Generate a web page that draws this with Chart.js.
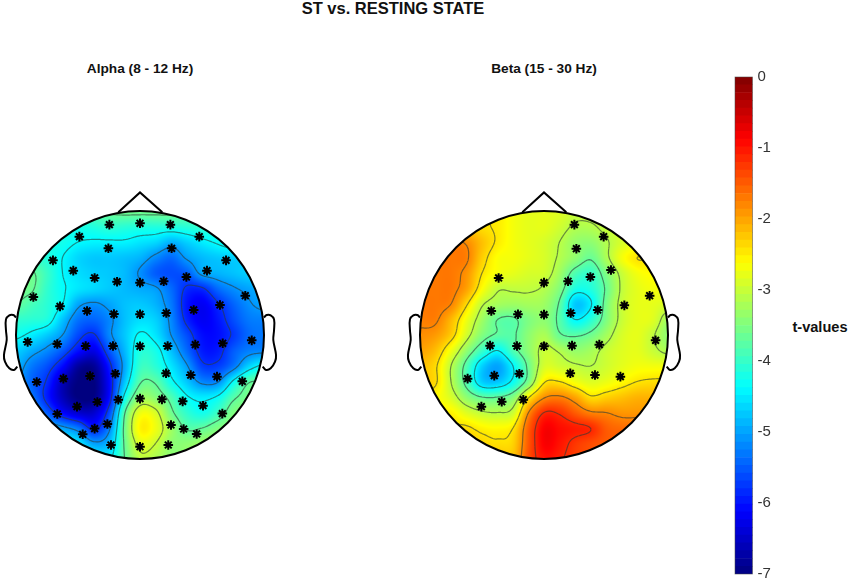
<!DOCTYPE html>
<html>
<head>
<meta charset="utf-8">
<title>ST vs. RESTING STATE</title>
<script src="https://cdn.jsdelivr.net/npm/chart.js@4"></script>
<style>
  html, body { margin: 0; padding: 0; background: #fff; }
  body { position: relative; width: 850px; height: 583px; overflow: hidden; font-family: "Liberation Sans", Arial, sans-serif; }
  canvas { position: absolute; }
  .label { position: absolute; font-weight: bold; color: #111; white-space: nowrap; transform: translateX(-50%); }
</style>
</head>
<body>
<div class="label" style="left:393px;top:-1px;font-size:16.5px">ST vs. RESTING STATE</div>
<div class="label" style="left:140px;top:61px;font-size:13.7px">Alpha (8 - 12 Hz)</div>
<div class="label" style="left:544px;top:61px;font-size:13.7px">Beta (15 - 30 Hz)</div>
<div class="label" style="left:820px;top:319px;font-size:14.6px">t-values</div>
<canvas id="alphaHead" width="280" height="285" style="left:0px;top:186px"></canvas>
<canvas id="betaHead" width="280" height="285" style="left:404px;top:186px"></canvas>
<canvas id="colorbar" width="70" height="523" style="left:720px;top:60px"></canvas>
<script>
// t-values, rows top to bottom, columns left to right
// grid runs -100..100 head units in both directions, every 12.5
const alphaGrid = [
  [-3.8,-3.8,-3.8,-3.8,-3.8,-3.75,-3.65,-3.6,-3.6,-3.6,-3.6,-3.7,-3.8,-3.9,-3.9,-3.9,-3.9],
  [-4.1,-4.1,-4.1,-4.15,-4.2,-4.15,-4.05,-4.1,-4.15,-4.15,-4.15,-4.1,-4.05,-4.1,-4.1,-4.1,-4.1],
  [-4.15,-4.15,-4.2,-4.25,-4.4,-4.45,-4.45,-4.45,-4.55,-4.65,-4.9,-4.7,-4.5,-4.35,-4.2,-4.2,-4.2],
  [-3.9,-4.0,-4.15,-4.4,-4.65,-4.75,-4.75,-4.8,-4.9,-5.2,-5.4,-5.05,-4.85,-4.75,-4.7,-4.7,-4.7],
  [-3.65,-3.65,-4.0,-4.4,-4.6,-4.7,-4.75,-4.85,-5.15,-5.5,-5.6,-5.5,-5.0,-4.9,-4.8,-4.7,-4.7],
  [-3.6,-3.65,-4.05,-4.35,-4.55,-4.65,-4.75,-4.85,-4.95,-5.05,-5.4,-5.85,-5.85,-5.4,-5.15,-5.0,-4.9],
  [-3.7,-3.9,-4.1,-4.4,-5.0,-5.15,-5.0,-4.8,-4.75,-4.9,-5.3,-6.0,-6.2,-5.85,-5.45,-5.15,-5.0],
  [-4.05,-4.1,-4.2,-4.8,-5.35,-5.45,-5.2,-4.8,-4.6,-4.7,-5.2,-5.9,-6.2,-6.0,-5.6,-5.3,-5.25],
  [-4.3,-4.5,-4.75,-5.1,-5.65,-5.85,-5.2,-4.75,-4.35,-4.55,-5.1,-5.6,-6.05,-6.05,-5.75,-5.4,-5.3],
  [-4.7,-4.95,-5.2,-5.55,-6.05,-6.3,-5.55,-4.85,-4.15,-4.25,-4.8,-5.4,-5.95,-5.95,-5.5,-5.25,-5.2],
  [-4.9,-5.3,-5.6,-6.1,-6.8,-6.85,-5.95,-4.95,-4.0,-4.1,-4.55,-5.05,-5.7,-5.7,-5.3,-4.65,-4.3],
  [-5.0,-5.45,-5.85,-6.6,-7.0,-7.0,-6.1,-4.75,-3.75,-3.75,-4.3,-4.75,-5.2,-5.15,-4.35,-3.75,-3.7],
  [-5.0,-5.3,-5.95,-6.6,-7.0,-6.95,-6.05,-4.3,-3.35,-3.45,-3.85,-4.35,-4.5,-4.35,-3.8,-3.55,-3.55],
  [-5.0,-5.0,-5.5,-6.1,-6.45,-6.45,-5.6,-3.75,-2.75,-2.9,-3.6,-4.05,-4.25,-3.95,-3.5,-3.5,-3.5],
  [-4.8,-4.8,-4.8,-5.0,-5.3,-5.9,-5.2,-3.6,-2.55,-2.75,-3.3,-3.75,-3.7,-3.5,-3.4,-3.4,-3.4],
  [-4.4,-4.4,-4.4,-4.4,-4.5,-5.0,-4.8,-3.65,-2.85,-3.0,-3.4,-3.4,-3.3,-3.3,-3.3,-3.3,-3.3],
  [-4.3,-4.3,-4.3,-4.3,-4.3,-4.4,-4.5,-3.7,-3.1,-3.2,-3.4,-3.4,-3.3,-3.3,-3.3,-3.3,-3.3]
];
const betaGrid = [
  [-2.4,-2.4,-2.4,-2.4,-2.4,-2.5,-2.7,-2.8,-2.8,-2.85,-3.0,-3.0,-2.95,-2.9,-2.9,-2.9,-2.9],
  [-2.3,-2.3,-2.3,-2.3,-2.4,-2.5,-2.7,-2.8,-2.8,-2.95,-3.15,-3.15,-3.0,-2.9,-2.9,-2.9,-2.9],
  [-1.9,-1.9,-1.75,-1.85,-2.2,-2.5,-2.7,-2.8,-2.9,-3.1,-3.35,-3.4,-3.15,-2.9,-2.8,-2.8,-2.8],
  [-1.7,-1.7,-1.7,-1.75,-2.3,-2.65,-2.7,-2.8,-2.9,-3.15,-3.4,-3.65,-3.2,-2.7,-2.45,-2.5,-2.5],
  [-1.7,-1.7,-1.7,-1.9,-2.45,-2.7,-2.8,-2.9,-2.95,-3.3,-3.85,-4.0,-3.5,-3.0,-2.7,-2.6,-2.6],
  [-1.7,-1.7,-1.7,-2.0,-2.65,-3.05,-3.05,-3.05,-3.15,-3.5,-4.2,-4.15,-3.65,-3.05,-2.8,-2.7,-2.7],
  [-1.7,-1.7,-1.8,-2.4,-3.05,-3.25,-3.3,-3.25,-3.3,-3.75,-4.75,-4.45,-3.55,-3.0,-2.8,-2.8,-2.9],
  [-1.75,-1.75,-2.15,-2.75,-3.3,-3.7,-3.75,-3.5,-3.4,-3.8,-4.4,-4.1,-3.5,-3.0,-2.8,-2.85,-3.3],
  [-1.85,-1.95,-2.3,-2.95,-3.5,-3.75,-3.75,-3.4,-3.2,-3.65,-3.75,-3.6,-3.25,-2.9,-2.8,-3.05,-3.4],
  [-2.0,-2.2,-2.75,-3.4,-4.0,-4.4,-3.85,-3.4,-3.0,-3.15,-3.35,-3.25,-3.0,-2.85,-2.8,-3.0,-3.2],
  [-2.2,-2.4,-3.1,-3.85,-4.7,-5.0,-4.4,-3.6,-2.9,-2.95,-3.05,-3.1,-2.95,-2.8,-2.7,-2.7,-2.7],
  [-2.3,-2.4,-3.1,-3.85,-4.7,-4.75,-4.3,-3.5,-2.5,-2.45,-2.7,-2.85,-2.75,-2.6,-2.45,-2.4,-2.4],
  [-2.5,-2.6,-2.9,-3.4,-3.7,-3.7,-3.45,-2.5,-1.85,-1.75,-2.0,-2.4,-2.3,-2.2,-2.1,-2.1,-2.1],
  [-2.5,-2.5,-2.55,-2.85,-3.05,-3.1,-2.95,-1.8,-1.15,-1.2,-1.5,-1.75,-1.8,-1.9,-1.9,-1.9,-1.9],
  [-2.4,-2.4,-2.4,-2.4,-2.55,-2.6,-2.45,-1.5,-0.85,-0.95,-1.05,-1.15,-1.5,-1.6,-1.6,-1.6,-1.6],
  [-2.3,-2.3,-2.3,-2.3,-2.35,-2.4,-2.3,-1.45,-0.85,-1.0,-1.25,-1.4,-1.5,-1.5,-1.5,-1.5,-1.5],
  [-2.3,-2.3,-2.3,-2.3,-2.3,-2.2,-2.2,-1.4,-1.0,-1.1,-1.3,-1.4,-1.5,-1.5,-1.5,-1.5,-1.5]
];
const alphaLevels = [-5.8, -5.1, -4.4, -3.7, -3.0];
const betaLevels = [-4.4, -3.7, -3.1, -2.45, -1.8, -1.15];

const alphaSensorX = [-24.7,0,24.5,-48.9,47.8,-25.5,25.5,-70.2,69.4,-53.8,54,-36.6,-18.5,0,19.1,37.4,-86,84.9,-64.5,64.5,-42.7,-21,0,21.2,43.3,-90.6,-66.7,-43.8,-21.8,0,22.3,44.6,66.7,90.1,-83.3,-61.8,-40.3,-19.9,21,40.9,62.1,82.5,-66.7,-50.8,-34.4,-17.5,0,17.7,34.4,50.8,66.4,-46.2,-26.3,-36.6,25,35.2,45.7,-23.4,0,22.8];
const alphaSensorY = [89,90.1,89,79.3,79.3,69.9,69.9,60.2,60.2,51.9,51.9,46,43,42.2,43.3,46.8,30.6,31.7,23.1,24.2,19.4,16.9,16.7,17.7,20.2,-5.6,-7.3,-8.9,-8.9,-9.1,-8.9,-7.8,-6.7,-4.3,-37.9,-35.2,-33.1,-31.2,-30.9,-32.3,-33.6,-37.4,-63.7,-57.8,-54,-52.2,-51.3,-51.9,-53.5,-57,-63.4,-80.1,-71.8,-75.5,-72.6,-75.8,-79.8,-88.7,-90.1,-88.7];
const betaSensorX = [24.5,48.1,26.1,54,-36.6,0,19.4,37.4,85.2,64.8,-42.5,-21,0,21.5,43.3,-43.5,-21.8,0,22.6,44.6,90,-61.6,-40.1,-19.9,21.2,41.1,61.6,-50.5,-34.1,-16.7];
const betaSensorY = [89,79.3,69.6,52.4,46,42.2,43.3,46.8,31.7,23.9,19.4,16.7,16.4,17.7,20.2,-8.6,-8.9,-9.1,-8.6,-7.8,-4.3,-35.2,-32.8,-31.2,-30.9,-32.3,-33.6,-57.8,-53.8,-52.2];

const noseX = [-17.5, 0, 18];
const noseY = [99, 115, 99];
const earX = [100, 102.2, 105.4, 108.1, 108.1, 107.5, 109.7, 108.9, 105.4, 101.6, 98.9];
const earY = [14.2, 16.1, 15.9, 12.6, 4, -4, -16.1, -21.5, -26.9, -28.2, -25.5];

const tMin = -7;
const tMax = 0;
const colorLevels = 64;
const gridStep = 12.5;

function jet(t) {
  const v = Math.min(1, Math.max(0, (t - tMin) / (tMax - tMin)));
  const ch = (c) => Math.round(255 * Math.min(1, Math.max(0, 1.5 - Math.abs(4 * v - c))));
  return [ch(3), ch(2), ch(1)];
}

function cubic(a, b, c, d, f) {
  return b + 0.5 * f * (c - a + f * (2 * a - 5 * b + 4 * c - d + f * (3 * (b - c) + d - a)));
}

// smooth read of the t-value grid at a head position
function sampleGrid(grid, x, y) {
  const n = grid.length - 1;
  const gx = Math.min(n, Math.max(0, (x + 100) / gridStep));
  const gy = Math.min(n, Math.max(0, (100 - y) / gridStep));
  const ix = Math.min(n - 1, Math.floor(gx));
  const iy = Math.min(n - 1, Math.floor(gy));
  const row = (r) => {
    const g = grid[Math.min(n, Math.max(0, r))];
    return cubic(g[Math.max(0, ix - 1)], g[ix], g[ix + 1], g[Math.min(n, ix + 2)], gx - ix);
  };
  return cubic(row(iy - 1), row(iy), row(iy + 1), row(iy + 2), gy - iy);
}

const topoPlugin = {
  id: "topo",
  beforeDatasetsDraw(chart, args, opts) {
    const { ctx } = chart;
    const xs = chart.scales.x;
    const ys = chart.scales.y;
    const grid = chart.data.datasets.find((d) => d.label === "t-values").grid;
    const cx = xs.getPixelForValue(0);
    const cy = ys.getPixelForValue(0);
    const r = xs.getPixelForValue(100) - cx;

    // heat map
    const off = document.createElement("canvas");
    off.width = chart.width;
    off.height = chart.height;
    const octx = off.getContext("2d");
    const img = octx.createImageData(off.width, off.height);
    for (let py = 0; py < off.height; py++) {
      for (let px = 0; px < off.width; px++) {
        if ((px - cx) ** 2 + (py - cy) ** 2 > (r + 1) ** 2) continue;
        const t = sampleGrid(grid, xs.getValueForPixel(px), ys.getValueForPixel(py));
        const [cr, cg, cb] = jet(t);
        const i = (py * off.width + px) * 4;
        img.data[i] = cr;
        img.data[i + 1] = cg;
        img.data[i + 2] = cb;
        img.data[i + 3] = 255;
      }
    }
    octx.putImageData(img, 0, 0);

    ctx.save();
    ctx.beginPath();
    ctx.arc(cx, cy, r, 0, Math.PI * 2);
    ctx.clip();
    ctx.filter = "blur(0.6px)";
    ctx.drawImage(off, 0, 0);
    ctx.filter = "none";

    // contour lines by marching squares
    const step = 1.25;
    const n = Math.round(200 / step);
    const field = [];
    for (let j = 0; j <= n; j++) {
      field[j] = [];
      for (let i = 0; i <= n; i++) field[j][i] = sampleGrid(grid, -100 + i * step, 100 - j * step);
    }
    const toPx = (i, j) => [xs.getPixelForValue(-100 + i * step), ys.getPixelForValue(100 - j * step)];
    ctx.strokeStyle = "rgba(45,60,55,0.6)";
    ctx.lineWidth = 1.2;
    ctx.beginPath();
    opts.levels.forEach((lv) => {
      for (let j = 0; j < n; j++) {
        for (let i = 0; i < n; i++) {
          const a = field[j][i], b = field[j][i + 1], c = field[j + 1][i + 1], d = field[j + 1][i];
          const pts = [];
          if ((a < lv) !== (b < lv)) pts.push(toPx(i + (lv - a) / (b - a), j));
          if ((b < lv) !== (c < lv)) pts.push(toPx(i + 1, j + (lv - b) / (c - b)));
          if ((d < lv) !== (c < lv)) pts.push(toPx(i + (lv - d) / (c - d), j + 1));
          if ((a < lv) !== (d < lv)) pts.push(toPx(i, j + (lv - a) / (d - a)));
          for (let k = 0; k + 1 < pts.length; k += 2) {
            ctx.moveTo(pts[k][0], pts[k][1]);
            ctx.lineTo(pts[k + 1][0], pts[k + 1][1]);
          }
        }
      }
    });
    ctx.stroke();
    ctx.restore();

    // head outline
    ctx.save();
    ctx.strokeStyle = "#000";
    ctx.lineWidth = 2;
    ctx.beginPath();
    ctx.arc(cx, cy, r, 0, Math.PI * 2);
    ctx.stroke();
    ctx.restore();
  }
};

const zip = (xs, ys) => xs.map((x, i) => ({ x, y: ys[i] }));

function outline(xs, ys, tension) {
  return {
    label: "outline",
    data: zip(xs, ys),
    showLine: true,
    tension,
    borderColor: "#000",
    borderWidth: 2,
    pointRadius: 0,
    fill: false
  };
}

function drawHead(id, grid, levels, sensorX, sensorY) {
  new Chart(document.getElementById(id), {
    type: "scatter",
    data: {
      datasets: [
        { label: "t-values", grid, data: [], pointRadius: 0 },
        outline(noseX, noseY, 0),
        outline(earX, earY, 0.35),
        outline(earX.map((x) => -x), earY, 0.35),
        {
          label: "sensors",
          data: zip(sensorX, sensorY),
          pointStyle: "star",
          pointRadius: 4.8,
          pointBorderWidth: 2,
          borderColor: "#000",
          backgroundColor: "#000"
        }
      ]
    },
    options: {
      responsive: false,
      animation: false,
      layout: { padding: 0, autoPadding: false },
      plugins: {
        legend: { display: false },
        tooltip: { enabled: false },
        topo: { levels }
      },
      scales: {
        x: { type: "linear", display: false, min: -112.9, max: 112.9 },
        y: { type: "linear", display: false, min: -109.68, max: 120.16 }
      }
    },
    plugins: [topoPlugin]
  });
}

drawHead("alphaHead", alphaGrid, alphaLevels, alphaSensorX, alphaSensorY);
drawHead("betaHead", betaGrid, betaLevels, betaSensorX, betaSensorY);

// colorbar: one floating bar per colormap level
const levelSize = (tMax - tMin) / colorLevels;
const barDatasets = [];
for (let i = 0; i < colorLevels; i++) {
  const lo = tMin + i * levelSize;
  const [r, g, b] = jet(lo + levelSize / 2);
  barDatasets.push({
    data: [[lo, lo + levelSize]],
    backgroundColor: `rgb(${r},${g},${b})`,
    borderWidth: 0,
    barPercentage: 1,
    categoryPercentage: 1,
    grouped: false
  });
}

new Chart(document.getElementById("colorbar"), {
  type: "bar",
  data: { labels: ["t"], datasets: barDatasets },
  options: {
    responsive: false,
    animation: false,
    maintainAspectRatio: false,
    layout: { padding: { left: 15, top: 17, bottom: 9, right: 0 }, autoPadding: false },
    plugins: { legend: { display: false }, tooltip: { enabled: false } },
    scales: {
      x: { display: false },
      y: {
        position: "right",
        min: tMin,
        max: tMax,
        ticks: { stepSize: 1, padding: 5, color: "#333", font: { family: "Liberation Sans", size: 15 } },
        grid: { display: false, drawTicks: false },
        border: { display: false },
        afterFit(scale) {
          scale.width = 37.5;
          scale.paddingTop = 0;
          scale.paddingBottom = 0;
        }
      }
    }
  },
  plugins: [{
    id: "barFrame",
    afterDraw(chart) {
      const { ctx, chartArea: a } = chart;
      ctx.save();
      ctx.strokeStyle = "rgba(70,70,70,0.7)";
      ctx.lineWidth = 0.75;
      ctx.strokeRect(a.left, a.top, a.right - a.left, a.bottom - a.top);
      ctx.restore();
    }
  }]
});
</script>
</body>
</html>
